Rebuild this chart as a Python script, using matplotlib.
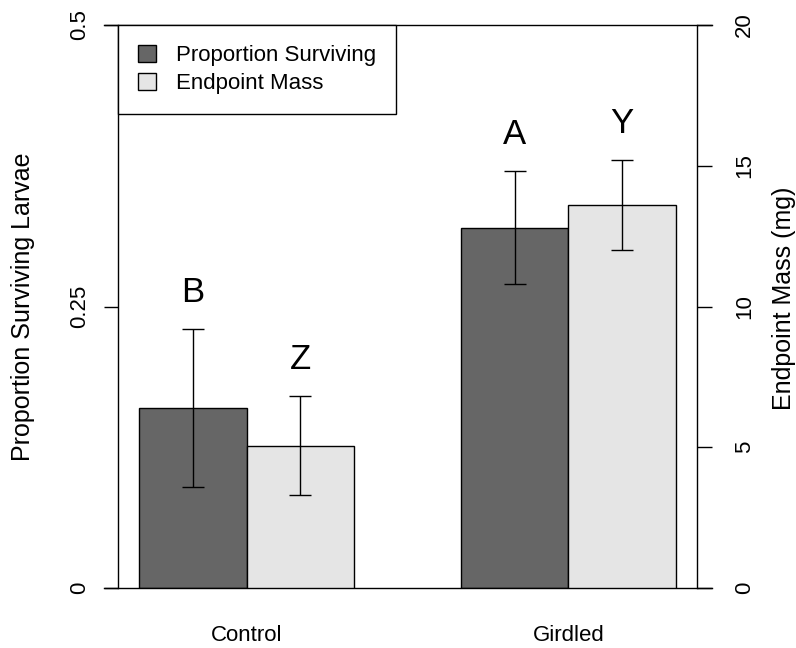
import numpy as np
import matplotlib
matplotlib.use("Agg")
import matplotlib.pyplot as plt
from matplotlib.patches import Patch

plt.rcParams['font.family'] = ['Liberation Sans', 'DejaVu Sans']

# data
groups = ["Control", "Girdled"]
survival = [0.16, 0.32]
survival_se = [0.07, 0.05]
mass = [5.05, 13.6]
mass_se = [1.76, 1.6]
survival_letters = ["B", "A"]
mass_letters = ["Z", "Y"]
survival_ticks = [0, 0.25, 0.5]
survival_tick_labels = ["0", "0.25", "0.5"]
mass_ticks = [0, 5, 10, 15, 20]
mass_tick_labels = ["0", "5", "10", "15", "20"]

dark = "#666666"
light = "#e5e5e5"

W, H = 796, 648
fig = plt.figure(figsize=(W / 100, H / 100), dpi=100)
ax = fig.add_axes([118 / W, 1 - 588 / H, (697 - 118) / W, (588 - 25) / H])
ax2 = ax.twinx()

# R barplot style positions: groups of two bars, one bar-width gap
x = np.arange(len(groups)) * 3 + 2
w = 1.0

ax.bar(x - w / 2, survival, w, color=dark, edgecolor="black", linewidth=1, zorder=2)
ax.errorbar(x - w / 2, survival, yerr=survival_se, fmt="none", ecolor="black",
            elinewidth=1, capsize=7.8, capthick=1, zorder=3)
ax2.bar(x + w / 2, mass, w, color=light, edgecolor="black", linewidth=1, zorder=2)
ax2.errorbar(x + w / 2, mass, yerr=mass_se, fmt="none", ecolor="black",
             elinewidth=1, capsize=7.8, capthick=1, zorder=3)

for xi, v, e, s in zip(x - w / 2, survival, survival_se, survival_letters):
    ax.annotate(s, (xi, v + e), xytext=(0, 19.8), textcoords="offset points",
                ha="center", va="baseline", fontsize=25)
for xi, v, e, s in zip(x + w / 2, mass, mass_se, mass_letters):
    ax2.annotate(s, (xi, v + e), xytext=(0, 19.8), textcoords="offset points",
                 ha="center", va="baseline", fontsize=25)

ax.set_xlim(0.8, 6.2)
ax.set_ylim(0, 0.5)
ax2.set_ylim(0, 20)

for s in ["top", "bottom", "right"]:
    ax.spines[s].set_visible(False)
for s in ["top", "bottom", "left"]:
    ax2.spines[s].set_visible(False)
ax.spines["left"].set_linewidth(1)
ax2.spines["right"].set_linewidth(1)

# lines at 0 and top, running across both tick marks
for yy in (0, 1):
    ax.plot([-14 / 579, 1 + 15 / 579], [yy, yy], transform=ax.transAxes,
            color="black", lw=1, clip_on=False, zorder=4)

ax.set_yticks(survival_ticks)
ax.set_yticklabels(survival_tick_labels, rotation=90, va="center")
ax.tick_params(axis="y", length=10, width=1, pad=10.4, labelsize=16)
ax2.set_yticks(mass_ticks)
ax2.set_yticklabels(mass_tick_labels, rotation=90, va="center")
ax2.tick_params(axis="y", length=10.8, width=1, pad=15.9, labelsize=16)

ax.set_xticks(x)
ax.set_xticklabels(groups, fontsize=16)
ax.tick_params(axis="x", length=0, pad=26.4)

handles = [Patch(facecolor=dark, edgecolor="black", linewidth=1, label="Proportion Surviving"),
           Patch(facecolor=light, edgecolor="black", linewidth=1, label="Endpoint Mass")]
leg = ax2.legend(handles=handles, loc="upper left", bbox_to_anchor=(0, 1),
                 borderaxespad=0, fancybox=False, edgecolor="black", framealpha=1,
                 fontsize=16, handlelength=0.8, handleheight=0.8, handletextpad=0.9,
                 borderpad=0.9, labelspacing=0.29)
leg.get_frame().set_linewidth(1)
leg.set_zorder(10)

fig.text(23.5 / W, 1 - 306.5 / H, "Proportion Surviving Larvae", rotation=90,
         ha="center", va="center", fontsize=18)
fig.text(784.5 / W, 1 - 298 / H, "Endpoint Mass (mg)", rotation=90,
         ha="center", va="center", fontsize=18)

fig.savefig("out.png", dpi=100)
